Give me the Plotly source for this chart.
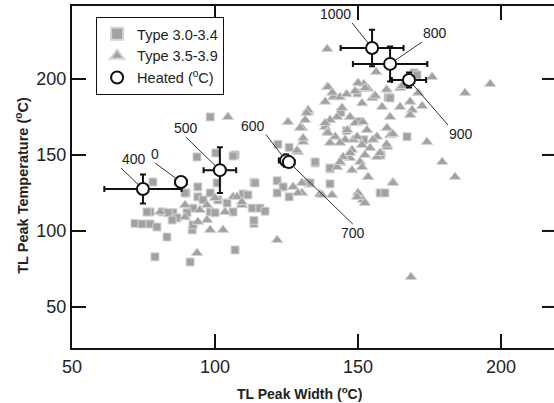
import plotly.graph_objects as go

# ---- data ----
sq_x = [78.3, 94, 100.7, 89.9, 94, 109.8, 113.6, 77.3, 81.5, 72, 74.5, 77.3, 79.7, 83.2, 79, 91.3, 107,
        113, 113.6, 111.5, 85.3, 83.6, 92, 98.3, 93.7, 100.3, 107, 114, 121.7, 89.5, 135, 140.2, 123.8,
        125.9, 121.7, 132.5, 140.2, 115.7, 113.6, 157.7, 122, 125.9, 149.7, 160.5, 140.2, 135, 159.4,
        133.2, 169.6, 161.2, 170.6, 76.2, 86.7, 92.3, 98.3, 95.8, 101, 100, 92.3, 98.3, 106.3, 85, 104.2,
        90.2, 167.1, 106.3, 146, 152, 158, 144, 150, 117.5]
sq_y = [132.2, 129, 131.6, 125, 122.4, 124.3, 132, 112.5, 112.5, 105, 104.6, 104.6, 102.6, 96, 83, 79.6,
        87.5, 115, 105, 123.7, 112, 112, 100.7, 175, 148.7, 151.3, 150, 131.6, 133, 125, 144.7, 140.8, 129,
        122.4, 125, 131.6, 131, 115, 107, 125, 157, 155, 190.8, 188, 141.4, 145.4, 125, 131.6, 204, 187.5,
        202.6, 112.5, 108.6, 115, 112.5, 120.4, 120.4, 112, 104, 125, 112.5, 107.2, 118.4, 112, 162, 149.3,
        166, 160, 150, 178, 172, 113]

tri_x = [104.5, 80.8, 89.5, 89.5, 94.7, 97.2, 98.3, 102.8, 93.7, 94, 100, 103.5, 109.4, 106.3, 97.2, 107.7,
         129, 130.4, 127.3, 130.4, 136.7, 140.9, 150, 151.7, 153.5, 121.7, 109.4, 130.8, 140.2, 143.7,
         139.2, 125.5, 132.5, 130.4, 130.8, 138.5,
         139.2, 141.3, 138.5, 143.7, 152, 153.5, 151.4, 155, 164.7, 158.4, 161.2, 168.2, 168.9, 144.4, 147.2,
         142.7, 140.2, 132.5, 131.5, 129.7, 128.7, 138.5, 139.2, 142, 146.2, 149, 151.7, 153.1, 156.6, 160.1,
         161.2, 148.3, 145.5, 151.4, 147.9, 154.2, 156.6, 152.4, 150.7, 147.2, 144.8, 142.7, 143.7, 151.4,
         147.9, 153.5, 162.2, 129, 149.7, 137.4, 157.7, 160.1,
         156.3, 175.9, 150, 164.7, 171, 139.5, 196.2, 187.4, 172.4, 174.1, 179.4, 183.9, 168.2, 165.4, 162.2,
         162.2, 168.5, 152.4,
         141, 146, 149, 152.5, 156, 160, 132, 139.5, 143.7, 149.7, 155.2, 160, 147.2]
tri_y = [175, 112.5, 117, 109, 113.8, 117, 100.7, 100.7, 85.5, 106, 121.7, 112.5, 117, 122.4, 107.2, 122.4,
         152, 131.6, 129, 125, 124.3, 123.7, 125, 120.4, 135.5, 94, 119, 158.6, 158, 144.7,
         219.7, 171.7, 178.3, 167.8, 161, 168.4,
         194.7, 188, 185, 188, 196.7, 193.4, 184, 187.5, 181.6, 181.6, 175, 185, 179.6, 181, 175,
         175, 173, 179.6, 173, 167.8, 153, 171, 165, 162, 166.4, 171, 171.7, 166.4, 162, 167.8,
         163, 160, 160, 156.6, 153.3, 154.6, 148.7, 150, 145.4, 148, 148.7, 142, 145.4, 142,
         140, 135.5, 132.2, 125, 122.4, 123.7, 151.3, 155.3,
         204.6, 201.3, 197.4, 194, 190.8, 194.7, 196.7, 190.8, 182.2, 158.6, 145.4, 135.5, 176.3, 195.4, 163.8,
         131.6, 69.7, 118.4,
         191, 190, 192, 194, 189, 193, 177.6, 164.5, 158, 162, 160, 157, 151.3]

heat_labels = ["400", "0", "500", "600", "700", "1000", "800", "900"]
heat_x = [74.8, 88.1, 101.7, 124.8, 125.8, 154.9, 161.2, 167.8]
heat_y = [127.6, 132.2, 140, 146.3, 145.3, 220.4, 209.9, 199.3]
heat_xerr = [13.5, 2, 5.7, 2.5, 2, 11, 13, 6]
heat_yerr = [9.5, 3, 15, 4, 3, 12, 11.5, 5]
# label offsets (pixels) and anchors
lab_ax = [-22, -26, -34, -20, 64, -20, 32, 39]
lab_ay = [-21, -19, -33, -26, 62, -25, -22, 45]
lab_xanchor = ["left", "center", "center", "right", "center", "right", "left", "left"]
lab_yanchor = ["bottom", "bottom", "bottom", "bottom", "top", "bottom", "bottom", "top"]

x_ticks = [50, 100, 150, 200]
y_ticks = [50, 100, 150, 200]

FONT = "Liberation Sans, Arial, sans-serif"
GRAY = "#a2a2a2"
PLOT_W = 482  # plot-area width in px (554 - left margin)

fig = go.Figure()
fig.add_trace(go.Scatter(x=sq_x, y=sq_y, mode="markers", name="Type 3.0-3.4",
                         marker=dict(symbol="square", size=8, color=GRAY,
                                     line=dict(color="#d4d4d4", width=1))))
fig.add_trace(go.Scatter(x=tri_x, y=tri_y, mode="markers", name="Type 3.5-3.9",
                         marker=dict(symbol="triangle-up", size=10, color=GRAY,
                                     line=dict(color="#d4d4d4", width=1))))
fig.add_trace(go.Scatter(x=heat_x, y=heat_y, mode="markers", name="Heated (<sup>o</sup>C)",
                         error_x=dict(type="data", array=heat_xerr, color="#111", thickness=2, width=3),
                         error_y=dict(type="data", array=heat_yerr, color="#111", thickness=2, width=3),
                         marker=dict(symbol="circle", size=12, color="white",
                                     line=dict(color="#111", width=2))))

for i, lab in enumerate(heat_labels):
    fig.add_annotation(x=heat_x[i], y=heat_y[i], text=lab, showarrow=True, arrowhead=0,
                       arrowwidth=1, arrowcolor="#333", ax=lab_ax[i], ay=lab_ay[i],
                       xanchor=lab_xanchor[i], yanchor=lab_yanchor[i], standoff=6,
                       font=dict(family=FONT, size=14, color="#222"), borderpad=0)

# right-side inside ticks (the right frame line itself lies off the picture)
for t in y_ticks:
    fig.add_shape(type="line", xref="paper", yref="y", x0=1 - 12 / PLOT_W, x1=1, y0=t, y1=t,
                  line=dict(color="#111", width=2))

fig.add_annotation(xref="paper", yref="paper", x=0.473, y=-0.132, text="<b>TL Peak Width (<sup>o</sup>C)</b>",
                   showarrow=False, font=dict(family=FONT, size=14, color="#222"), xanchor="center", yanchor="middle")
fig.add_annotation(xref="paper", yref="paper", x=-0.104, y=0.477, text="<b>TL Peak Temperature (<sup>o</sup>C)</b>",
                   showarrow=False, textangle=-90, font=dict(family=FONT, size=14.5, color="#222"),
                   xanchor="center", yanchor="middle")

axis_common = dict(ticks="inside", ticklen=14, tickwidth=2, tickcolor="#111", showgrid=False, zeroline=False,
                   tickfont=dict(family=FONT, size=18, color="#222"))
fig.update_layout(
    width=554, height=403, margin=dict(l=72, r=0, t=6, b=55),
    plot_bgcolor="white", paper_bgcolor="white",
    xaxis=dict(range=[50, 218.5], tickvals=x_ticks, showline=True, linecolor="#111", linewidth=2,
               mirror="ticks", ticklabelstandoff=1, **axis_common),
    yaxis=dict(range=[23, 248], tickvals=y_ticks, showline=True, linecolor="#111", linewidth=2,
               **axis_common),
    legend=dict(x=0.05, y=0.968, xanchor="left", yanchor="top", bgcolor="white",
                bordercolor="#111", borderwidth=1, font=dict(family=FONT, size=14.5, color="#222"),
                itemsizing="constant", tracegroupgap=0),
    showlegend=True,
)
fig.write_html("out.html")
